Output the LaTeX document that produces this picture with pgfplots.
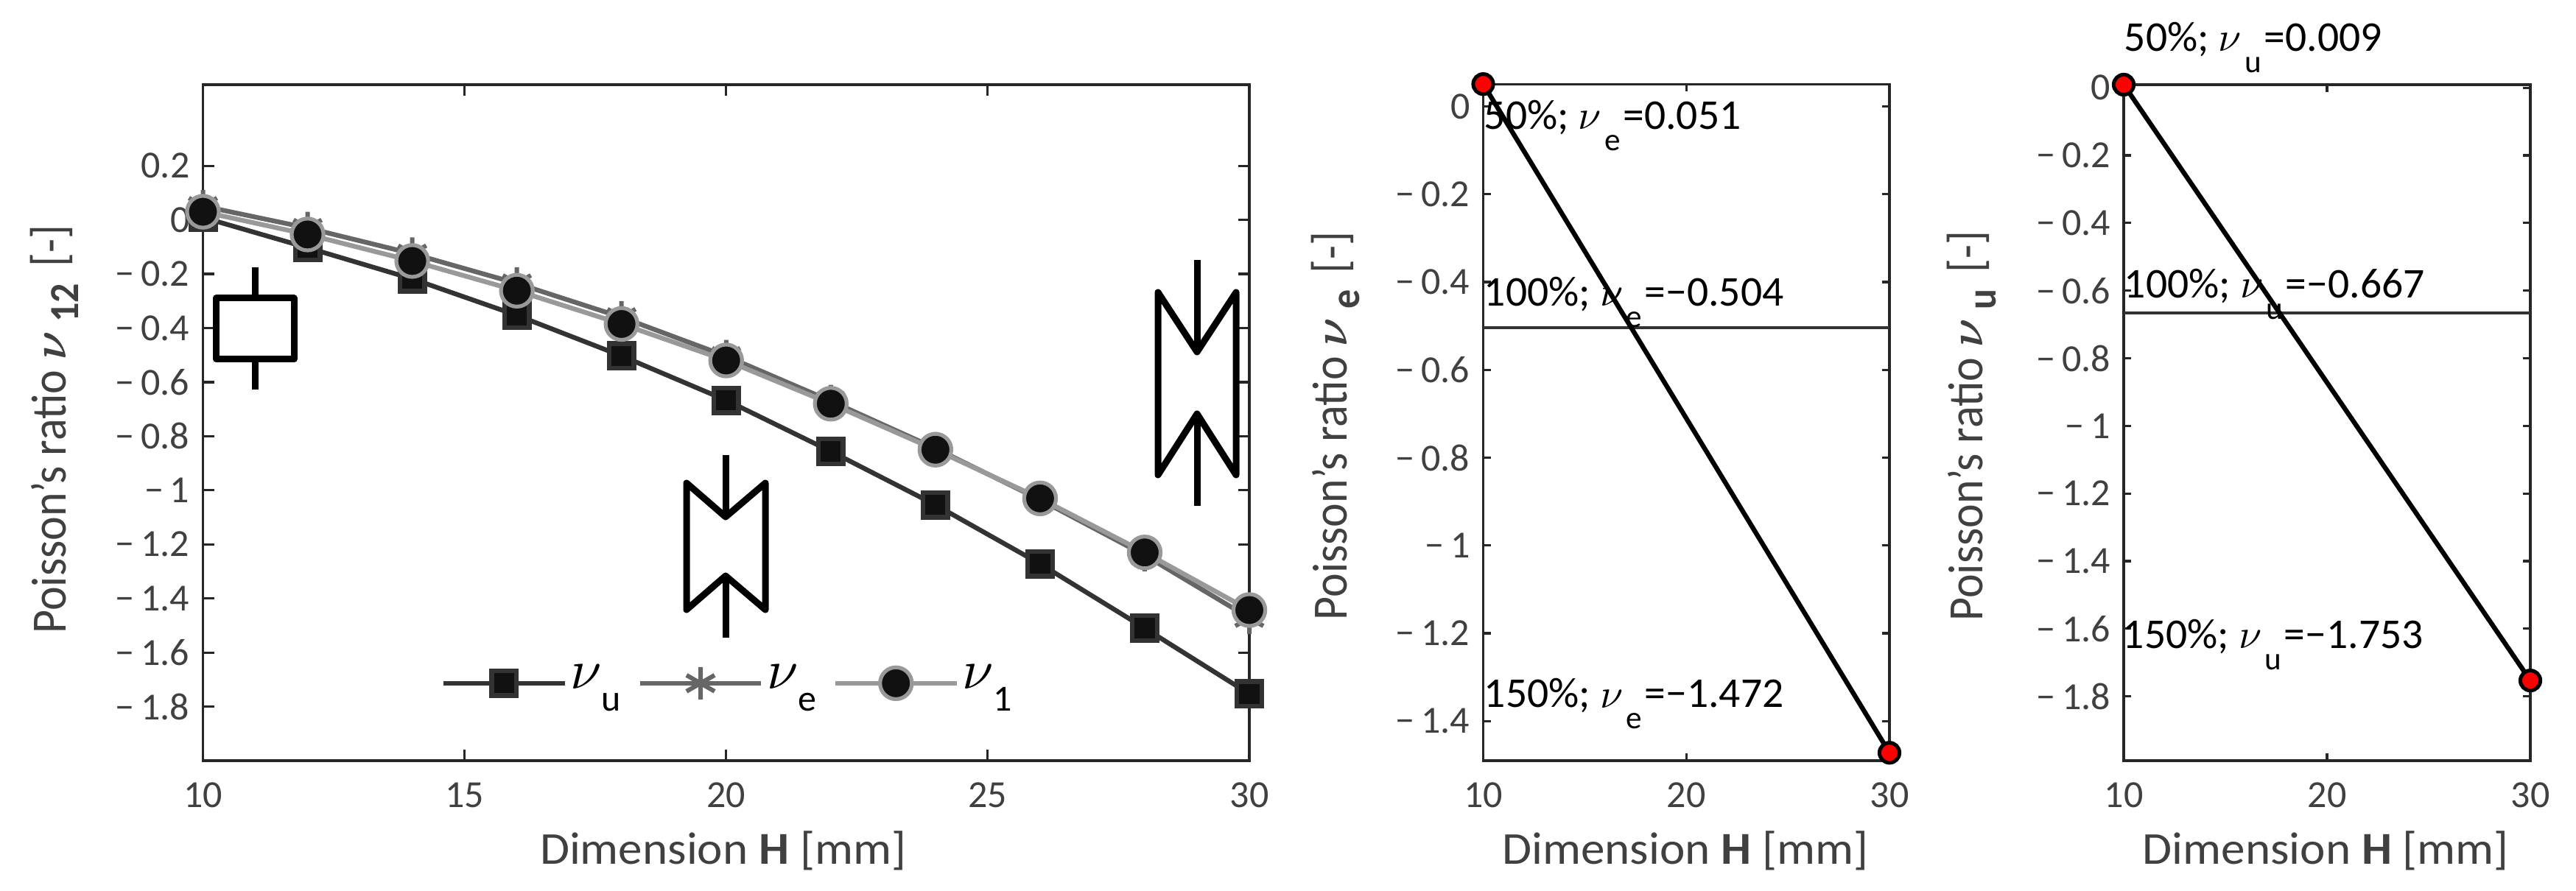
\documentclass[border=0pt]{standalone}
\usepackage{graphicx}
\usepackage{fontspec}
\setmainfont{Carlito}
\usepackage{pgfplots}
\pgfplotsset{compat=1.18}

\definecolor{axcol}{HTML}{262626}
\definecolor{txtcol}{HTML}{404040}
\definecolor{ucol}{HTML}{333333}
\definecolor{ecol}{HTML}{666666}
\definecolor{onecol}{HTML}{999999}
\definecolor{fillcol}{HTML}{111111}

% nu with a low, detached subscript
\newcommand{\sizednu}[1]{\scalebox{#1}{\fontsize{10}{12}\selectfont$\nu$}}
\newcommand{\annu}[1]{\sizednu{1.4}\kern1pt\raisebox{-7.25pt}{\fontsize{10.8}{12}\selectfont #1}\kern1pt}
\newcommand{\legnu}[1]{\raisebox{-2pt}{\sizednu{1.9}}\raisebox{-9.5pt}{\fontsize{12.5}{14}\selectfont #1}}
\newcommand{\labnu}[1]{\scalebox{1.5}{\fontsize{10}{12}\selectfont\boldmath$\nu$}\kern3pt\raisebox{-4pt}{\bfseries\fontsize{13}{15}\selectfont #1}\kern2pt}
\newcommand{\xlab}{\scalebox{1.05}[1]{Dimension \textbf{H} [mm]}}
\newcommand{\ylab}[1]{\scalebox{1}[1.08]{Poisson's ratio \labnu{#1}\ [-]}}

\pgfplotsset{
  panel/.style={
    scale only axis,
    anchor=south west,
    clip=false,
    axis line style={axcol,line width=0.8pt},
    tick style={axcol,line width=0.8pt},
    tick align=inside,
    xmin=10,xmax=30,
    tick label style={font=\fontsize{13}{15}\selectfont,text=txtcol},
    xticklabel style={yshift=-4pt},
    yticklabel style={xshift=-1pt},
    label style={font=\fontsize{15.5}{18}\selectfont,text=txtcol},
    x label style={at={(axis description cs:0.497,-0.133)},anchor=center},
  },
  pointline/.style={black,line width=1.6pt,mark=*,mark size=3.4pt,
    mark options={fill=red,draw=black,line width=1.25pt}},
  refline/.style={ucol,line width=1pt,forget plot},
}

\begin{document}
\begin{tikzpicture}
\useasboundingbox (0,0) rectangle (874.25pt,302.25pt);

% left panel
\begin{axis}[panel,
  at={(68.875pt,44pt)},width=355.125pt,height=229.5pt,
  ymin=-2,ymax=0.5,
  major tick length=3.75pt,
  xtick={10,15,20,25,30},xticklabels={10,15,20,25,30},
  ytick={-1.8,-1.6,-1.4,-1.2,-1,-0.8,-0.6,-0.4,-0.2,0,0.2},
  yticklabels={−\,1.8,−\,1.6,−\,1.4,−\,1.2,−\,1,−\,0.8,−\,0.6,−\,0.4,−\,0.2,0,0.2},
  xlabel={\xlab},
  ylabel={\ylab{12}},
  y label style={at={(axis description cs:-0.142,0.49)},anchor=center},
  legend columns=3,
  legend style={draw=none,fill=none,inner sep=0pt,anchor=west,
    at={(axis description cs:0.227,0.116)},
    nodes={inner sep=0pt,anchor=base west},
    /tikz/every odd column/.append style={column sep=1.1pt},
    /tikz/every even column/.append style={column sep=5.6pt}},
  legend image code/.code={
    \draw[mark repeat=2,mark phase=2,#1] plot coordinates {(0pt,0pt)(20.6pt,0pt)(41.2pt,0pt)};},
]
\addplot[ucol,line width=1.6pt,mark=square*,mark size=4.2pt,
  mark options={fill=fillcol,draw=ucol,line width=1.6pt,solid}] coordinates {
  (10,0.009) (12,-0.103) (14,-0.218) (16,-0.353) (18,-0.503) (20,-0.667)
  (22,-0.856) (24,-1.054) (26,-1.272) (28,-1.510) (30,-1.753)
};
\addlegendentry{\legnu{u}}
\addplot[ecol,line width=1.6pt,mark=asterisk,mark size=5.5pt,
  mark options={ecol,line width=1.5pt,solid}] coordinates {
  (10,0.051) (12,-0.030) (14,-0.125) (16,-0.235) (18,-0.360) (20,-0.504)
  (22,-0.670) (24,-0.845) (26,-1.035) (28,-1.240) (30,-1.472)
};
\addlegendentry{\legnu{e}}
\addplot[onecol,line width=1.6pt,mark=*,mark size=5.4pt,
  mark options={fill=fillcol,draw=onecol,line width=1.3pt,solid}] coordinates {
  (10,0.030) (12,-0.054) (14,-0.152) (16,-0.262) (18,-0.385) (20,-0.520)
  (22,-0.680) (24,-0.850) (26,-1.030) (28,-1.230) (30,-1.443)
};
\addlegendentry{\legnu{1}}
\end{axis}

% middle panel
\begin{axis}[panel,
  at={(503.375pt,44pt)},width=137.875pt,height=229.7pt,
  ymin=-1.49,ymax=0.051,
  major tick length=2.5pt,
  xtick={10,20,30},xticklabels={10,20,30},
  ytick={-1.4,-1.2,-1,-0.8,-0.6,-0.4,-0.2,0},
  yticklabels={−\,1.4,−\,1.2,−\,1,−\,0.8,−\,0.6,−\,0.4,−\,0.2,0},
  xlabel={\xlab},
  ylabel={\ylab{e}},
  y label style={at={(axis description cs:-0.363,0.495)},anchor=center},
]
\addplot[refline] coordinates {(10,-0.504) (30,-0.504)};
\addplot[pointline] coordinates {(10,0.051) (30,-1.472)};
\end{axis}

% right panel
\begin{axis}[panel,
  at={(720.75pt,44pt)},width=138pt,height=229.5pt,
  ymin=-1.99,ymax=0.009,
  major tick length=2.5pt,
  xtick={10,20,30},xticklabels={10,20,30},
  ytick={-1.8,-1.6,-1.4,-1.2,-1,-0.8,-0.6,-0.4,-0.2,0},
  yticklabels={−\,1.8,−\,1.6,−\,1.4,−\,1.2,−\,1,−\,0.8,−\,0.6,−\,0.4,−\,0.2,0},
  xlabel={\xlab},
  ylabel={\ylab{u}},
  y label style={at={(axis description cs:-0.374,0.495)},anchor=center},
]
\addplot[refline] coordinates {(10,-0.667) (30,-0.667)};
\addplot[pointline] coordinates {(10,0.009) (30,-1.753)};
\end{axis}

% annotations and specimen sketches, in pixels of the reference
\begin{scope}[x=0.25pt,y=-0.25pt,yshift=302.25pt,
    every node/.style={anchor=base west,inner sep=0pt,font=\fontsize{14.4}{17}\selectfont},
    sk/.style={black,line width=2.25pt,line join=round}]
  \node at (2014,176) {50\%; \annu{e}=0.051};
  \node at (2014,416) {100\%; \annu{e}=−0.504};
  \node at (2014,961) {150\%; \annu{e}=−1.472};
  \node at (2883,70) {50\%; \annu{u}=0.009};
  \node at (2883,405) {100\%; \annu{u}=−0.667};
  \node at (2881,881) {150\%; \annu{u}=−1.753};

  \draw[sk] (293,405) rectangle (399,488);
  \draw[sk] (346,363) -- (346,405) (346,488) -- (346,529);

  \draw[sk] (932,656) -- (985,702) -- (1039,656) -- (1039,828) -- (985,782) -- (932,828) -- cycle;
  \draw[sk] (985,618) -- (985,702) (985,782) -- (985,866);

  \draw[sk] (1572,397) -- (1625,478) -- (1678,397) -- (1678,645) -- (1625,562) -- (1572,645) -- cycle;
  \draw[sk] (1625,353) -- (1625,478) (1625,562) -- (1625,687);
\end{scope}
\end{tikzpicture}
\end{document}
